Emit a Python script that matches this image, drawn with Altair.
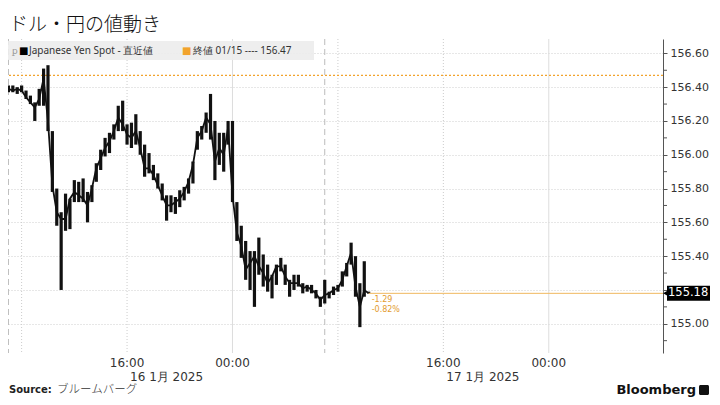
import altair as alt
import pandas as pd

# ---------------- data ----------------
highs = [156.41, 156.41, 156.40, 156.41, 156.38, 156.35, 156.31, 156.39, 156.51, 156.53,
         156.14, 155.80, 155.66, 155.77, 155.74, 155.85, 155.84, 155.86, 155.78, 155.82,
         155.95, 156.03, 156.10, 156.13, 156.18, 156.29, 156.32, 156.18, 156.19, 156.24,
         156.14, 156.06, 156.01, 155.94, 155.89, 155.83, 155.76, 155.76, 155.75, 155.79,
         155.81, 155.86, 155.96, 156.14, 156.17, 156.25, 156.36, 156.20, 156.13, 156.13,
         156.20, 156.20, 155.72, 155.58, 155.49, 155.43, 155.43, 155.51, 155.41, 155.35,
         155.29, 155.35, 155.39, 155.35, 155.26, 155.29, 155.29, 155.24, 155.23, 155.23,
         155.20, 155.16, 155.26, 155.19, 155.22, 155.23, 155.31, 155.36, 155.48, 155.40,
         155.24, 155.37, 155.19]
lows = [156.37, 156.37, 156.36, 156.37, 156.33, 156.30, 156.20, 156.29, 156.29, 156.14,
        155.78, 155.58, 155.20, 155.55, 155.56, 155.72, 155.72, 155.72, 155.60, 155.72,
        155.84, 155.91, 155.99, 156.01, 156.09, 156.14, 156.14, 156.06, 156.04, 156.06,
        156.00, 155.87, 155.89, 155.85, 155.80, 155.73, 155.61, 155.66, 155.65, 155.69,
        155.73, 155.77, 155.83, 156.03, 156.09, 156.13, 156.09, 155.85, 155.94, 155.90,
        156.06, 155.72, 155.49, 155.39, 155.26, 155.20, 155.10, 155.29, 155.22, 155.19,
        155.15, 155.23, 155.31, 155.23, 155.16, 155.20, 155.22, 155.18, 155.19, 155.18,
        155.15, 155.10, 155.12, 155.15, 155.17, 155.19, 155.22, 155.28, 155.35, 155.16,
        154.98, 155.16, 155.18]
closes = [156.39, 156.38, 156.39, 156.38, 156.34, 156.31, 156.28, 156.33, 156.45, 156.20,
          155.82, 155.66, 155.62, 155.62, 155.74, 155.78, 155.76, 155.74, 155.70, 155.80,
          155.92, 155.98, 156.04, 156.08, 156.14, 156.22, 156.18, 156.12, 156.10, 156.14,
          156.04, 155.92, 155.92, 155.88, 155.82, 155.76, 155.70, 155.70, 155.72, 155.74,
          155.78, 155.84, 155.94, 156.10, 156.14, 156.22, 156.18, 155.96, 156.04, 156.00,
          156.16, 155.76, 155.54, 155.46, 155.32, 155.36, 155.40, 155.34, 155.30, 155.24,
          155.28, 155.34, 155.34, 155.28, 155.24, 155.24, 155.24, 155.21, 155.22, 155.20,
          155.18, 155.14, 155.17, 155.18, 155.20, 155.21, 155.26, 155.34, 155.42, 155.22,
          155.10, 155.20, 155.18]
bar_times = [t.strftime("%Y-%m-%dT%H:%M:%SZ")
             for t in pd.date_range("2025-01-16 07:00", periods=len(highs), freq="20min")]

prev_close = 156.47
last_price = 155.18
last_time = bar_times[-1]
change_abs = "-1.29"
change_pct = "-0.82%"

y_label_values = [155.0, 155.2, 155.4, 155.6, 155.8, 156.0, 156.2, 156.4, 156.6]
y_minor_values = [154.9, 155.1, 155.3, 155.5, 155.7, 155.9, 156.1, 156.3, 156.5]

grid_dotted = ["2025-01-16T08:00:00Z", "2025-01-16T16:00:00Z",
               "2025-01-17T08:00:00Z", "2025-01-17T16:00:00Z"]
grid_solid = ["2025-01-17T00:00:00Z", "2025-01-18T00:00:00Z"]
grid_dashed = ["2025-01-16T07:00:00Z", "2025-01-17T07:00:00Z"]

hour_label_times = ["2025-01-16T16:00:00Z", "2025-01-17T00:00:00Z",
                    "2025-01-17T16:00:00Z", "2025-01-18T00:00:00Z"]
hour_labels = ["16:00", "00:00", "16:00", "00:00"]
date_label_times = ["2025-01-16T16:00:00Z", "2025-01-17T16:00:00Z"]
date_labels = ["16 1月 2025", "17 1月 2025"]

title_text = "ドル・円の値動き"
legend_series = "Japanese Yen Spot - 直近値"
legend_prev = "終値 01/15 ---- 156.47"

# ---------------- layout ----------------
W, H = 655, 314
ORANGE = "#f2a32c"
FONT = "DejaVu Sans"
CJK = "Noto Sans CJK JP"

df_bars = pd.DataFrame({"t": bar_times, "high": highs, "low": lows, "close": closes})

xscale = alt.Scale(type="utc", domain=[
    alt.DateTime(year=2025, month=1, date=16, hours=6, minutes=58, utc=True),
    alt.DateTime(year=2025, month=1, date=18, hours=8, minutes=40, utc=True)])
yscale = alt.Scale(domain=[154.827, 156.685], nice=False, zero=False)
yaxis = alt.Axis(orient="right", values=y_label_values, grid=True,
                 labelExpr="abs(datum.value - 155.2) < 0.001 ? '' : format(datum.value, '.2f')",
                 gridColor="#cfcfcf", gridDash=[1, 2], gridWidth=1,
                 domainColor="#555555", domainWidth=1, tickColor="#555555", tickSize=4,
                 labelFont=FONT, labelFontSize=11, labelColor="#333333", labelPadding=3,
                 title=None)


def X(field):
    return alt.X(field, type="temporal", scale=xscale, axis=None, title=None)


def Y(field):
    return alt.Y(field, type="quantitative", scale=yscale, axis=yaxis, title=None)


one = alt.Data(values=[{}])

vg_dotted = alt.Chart(pd.DataFrame({"t": grid_dotted})).mark_rule(
    color="#cccccc", strokeDash=[1, 2], strokeWidth=1).encode(x=X("t"))
vg_solid = alt.Chart(pd.DataFrame({"t": grid_solid})).mark_rule(
    color="#dddddd", strokeWidth=1).encode(x=X("t"))
vg_dashed = alt.Chart(pd.DataFrame({"t": grid_dashed})).mark_rule(
    color="#bbbbbb", strokeDash=[6, 4], strokeWidth=1).encode(x=X("t"))

prev_line = alt.Chart(pd.DataFrame({"price": [prev_close]})).mark_rule(
    color=ORANGE, strokeDash=[2, 2], strokeWidth=1.2).encode(y=Y("price"))

band = alt.Chart(one).mark_rect(color="#ececec", opacity=0.9).encode(
    x=alt.value(0), x2=alt.value(306), y=alt.value(2), y2=alt.value(21))
leg_sq1 = alt.Chart(one).mark_text(text="■", color="#000000", fontSize=10, font=FONT,
                                   align="left", baseline="middle").encode(
    x=alt.value(11), y=alt.value(11.5))
leg_t1 = alt.Chart(one).mark_text(text=legend_series, color="#333333", fontSize=10,
                                  font="Noto Sans", align="left", baseline="middle").encode(
    x=alt.value(21), y=alt.value(11.5))
leg_sq2 = alt.Chart(one).mark_text(text="■", color=ORANGE, fontSize=10, font=FONT,
                                   align="left", baseline="middle").encode(
    x=alt.value(174), y=alt.value(11.5))
leg_t2 = alt.Chart(one).mark_text(text=legend_prev, color="#333333", fontSize=10,
                                  font="Noto Sans", align="left", baseline="middle").encode(
    x=alt.value(185), y=alt.value(11.5))
leg_icon = alt.Chart(one).mark_text(text="ꝑ", color="#999999", fontSize=9, font=FONT,
                                    align="left", baseline="middle").encode(
    x=alt.value(4), y=alt.value(11.5))

bars = alt.Chart(df_bars).mark_rule(color="#111111", strokeWidth=3.2).encode(
    x=X("t"), y=Y("low"), y2="high")
line = alt.Chart(df_bars).mark_line(color="#111111", strokeWidth=1.8).encode(
    x=X("t"), y=Y("close"))

df_last = pd.DataFrame({"t": [last_time], "price": [last_price],
                        "abs": [change_abs], "pct": [change_pct],
                        "lbl": [f"{last_price:.2f}"]})
last_line = alt.Chart(df_last).mark_rule(color="#f0b860", strokeWidth=1).encode(
    x=X("t"), x2=alt.value(W), y=Y("price"))
chg1 = alt.Chart(df_last).mark_text(color="#e39b2e", fontSize=8, font=FONT, align="left",
                                    baseline="middle", dx=3, dy=7).encode(
    x=X("t"), y=Y("price"), text="abs:N")
chg2 = alt.Chart(df_last).mark_text(color="#e39b2e", fontSize=8, font=FONT, align="left",
                                    baseline="middle", dx=3, dy=17).encode(
    x=X("t"), y=Y("price"), text="pct:N")

minor = alt.Chart(pd.DataFrame({"v": y_minor_values})).mark_rule(
    color="#555555", strokeWidth=1).encode(x=alt.value(W), x2=alt.value(W + 4), y=Y("v"))

box = alt.Chart(df_last).mark_rule(color="#000000", strokeWidth=15).encode(
    x=alt.value(W + 4), x2=alt.value(W + 47), y=Y("price"))
box_tip = alt.Chart(df_last).mark_point(shape="triangle-left", filled=True, color="#000000",
                                        opacity=1, size=80).encode(
    x=alt.value(W + 4), y=Y("price"))
box_txt = alt.Chart(df_last).mark_text(color="#ffffff", fontSize=11.5, font=FONT,
                                       align="left", baseline="middle").encode(
    x=alt.value(W + 5), y=Y("price"), text="lbl:N")

xlab = alt.Chart(pd.DataFrame({"t": hour_label_times, "label": hour_labels})).mark_text(
    font=FONT, fontSize=12, color="#333333", baseline="middle").encode(
    x=X("t"), y=alt.value(H + 10), text="label:N")
dlab = alt.Chart(pd.DataFrame({"t": date_label_times, "label": date_labels})).mark_text(
    font=FONT, fontSize=12, color="#333333", baseline="middle", align="left", dx=3).encode(
    x=X("t"), y=alt.value(H + 24), text="label:N")

title = alt.Chart(one).mark_text(text=title_text, font=CJK, fontSize=19, color="#111111",
                                 align="left", baseline="middle", fontWeight=300).encode(
    x=alt.value(1), y=alt.value(-14))
src1 = alt.Chart(one).mark_text(text="Source:", font=FONT, fontSize=10, fontWeight="bold",
                                color="#222222", align="left", baseline="middle").encode(
    x=alt.value(1), y=alt.value(H + 37))
src2 = alt.Chart(one).mark_text(text="ブルームバーグ", font=CJK, fontSize=11.5, fontWeight=300,
                                color="#333333", align="left", baseline="middle").encode(
    x=alt.value(49), y=alt.value(H + 37))
bbg = alt.Chart(one).mark_text(text="Bloomberg", font=FONT, fontSize=13, fontWeight="bold",
                               color="#111111", align="right", baseline="middle").encode(
    x=alt.value(W + 33), y=alt.value(H + 37))
logo = alt.Chart(one).mark_rect(color="#111111", cornerRadius=1.5).encode(
    x=alt.value(W + 36), x2=alt.value(W + 46), y=alt.value(H + 32), y2=alt.value(H + 42))

chart = alt.layer(
    vg_dotted, vg_solid, vg_dashed, prev_line, band, leg_icon, leg_sq1, leg_t1, leg_sq2, leg_t2,
    bars, line, last_line, chg1, chg2, minor, box, box_tip, box_txt,
    xlab, dlab, title, src1, src2, bbg, logo
).properties(
    width=W, height=H,
    padding={"left": 0, "top": 31, "right": 49, "bottom": 44},
    autosize=alt.AutoSizeParams(type="none"),
    background="white",
).configure_view(stroke=None)

chart.save("out.html", embed_options={"renderer": "svg", "actions": False})
